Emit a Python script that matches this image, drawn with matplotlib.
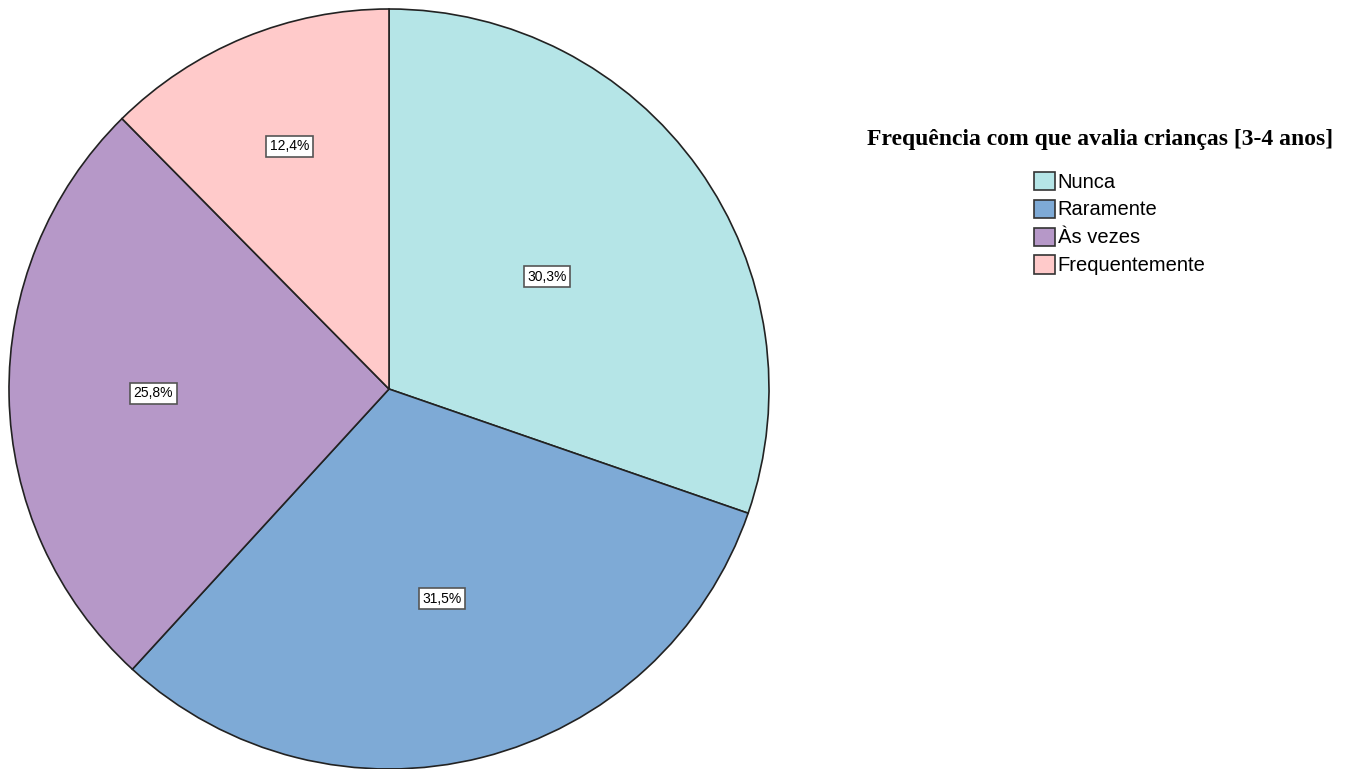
import numpy as np
import matplotlib
matplotlib.use("Agg")
import matplotlib.pyplot as plt
from matplotlib.patches import Patch

# Dados
categorias = ["Nunca", "Raramente", "Às vezes", "Frequentemente"]
percentagens = [30.3, 31.5, 25.8, 12.4]
cores = ["#b5e5e7", "#7eaad6", "#b698c8", "#ffcaca"]
titulo_legenda = "Frequência com que avalia crianças [3-4 anos]"

# distância radial de cada rótulo (fração do raio)
dist_rotulos = [0.51, 0.57, 0.62, 0.69]

fig = plt.figure(figsize=(13.56, 7.69), dpi=100)
ax = fig.add_axes([9 / 1356, 0.0, 760 / 1356, 760 / 769])

wedges, _ = ax.pie(percentagens, colors=cores, startangle=90, counterclock=False,
                   wedgeprops=dict(edgecolor="#222222", linewidth=1.2))
ax.set_xlim(-1.0, 1.0)
ax.set_ylim(-1.0, 1.0)
ax.set_aspect("equal")

# Rótulos com as percentagens
for w, p, d in zip(wedges, percentagens, dist_rotulos):
    ang = np.deg2rad((w.theta1 + w.theta2) / 2)
    x, y = d * np.cos(ang), d * np.sin(ang)
    ax.text(x, y, f"{p:.1f}%".replace(".", ","), ha="center", va="center",
            fontsize=10, family="Liberation Sans",
            bbox=dict(boxstyle="square,pad=0.25", facecolor="white",
                      edgecolor="#555555", linewidth=1.2))

# Legenda
fig.text(1100 / 1356, 1 - 139 / 769, titulo_legenda, ha="center", va="center",
         family="Liberation Serif", weight="bold", fontsize=17)
handles = [Patch(facecolor=c, edgecolor="#333333", linewidth=1.2) for c in cores]
leg = fig.legend(handles, categorias, loc="center",
                 bbox_to_anchor=(1120 / 1356, 1 - 223.5 / 769),
                 frameon=False, prop=dict(family="Liberation Sans", size=14.5),
                 handlelength=1.0, handleheight=1.0, handletextpad=0.15,
                 labelspacing=0.4)

fig.savefig("out.png", dpi=100)
